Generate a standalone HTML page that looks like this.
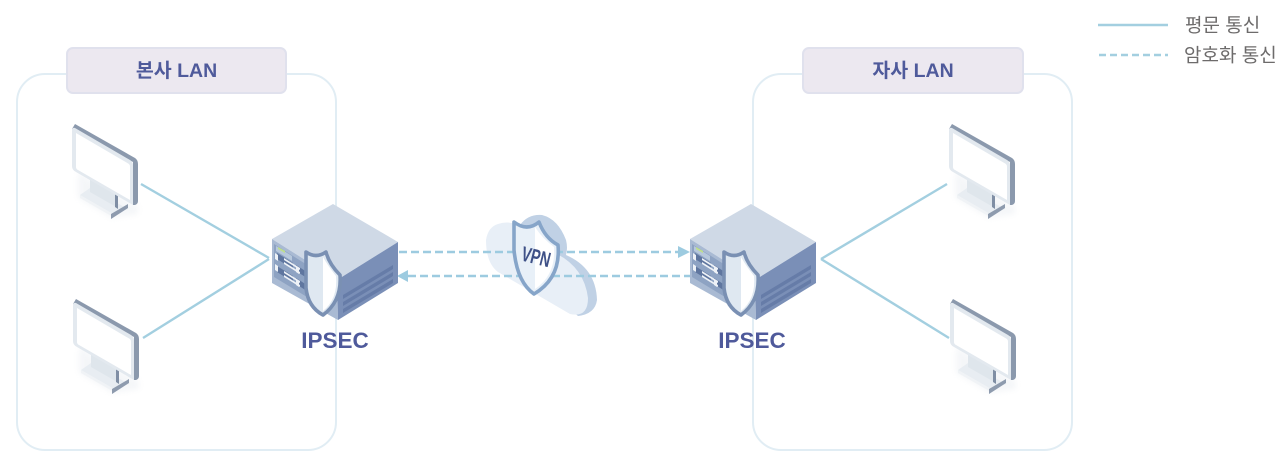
<!DOCTYPE html>
<html lang="ko"><head><meta charset="utf-8"><title>IPSEC VPN</title>
<style>html,body{margin:0;padding:0;background:#fff}svg{display:block}
text{font-family:"Liberation Sans","Noto Sans CJK KR",sans-serif}</style></head>
<body>
<svg width="1280" height="463" viewBox="0 0 1280 463" xmlns="http://www.w3.org/2000/svg">
<defs>
<filter id="sh" x="-30%" y="-30%" width="160%" height="160%"><feGaussianBlur stdDeviation="3"/></filter>
<g id="mon">
  <polygon points="6,48 66,82 66,90 40,94 6,74" fill="#e8ecf1" filter="url(#sh)" opacity=".45"/>
  <polygon points="8,71 18,64 56,85 41,90" fill="#e8edf2"/>
  <polygon points="8,71 41,90 41,93 8,74" fill="#f0f3f6"/>
  <polygon points="18,50 46,66 46,84 18,68" fill="#dfe6ec"/>
  <polygon points="43,66 46,68 46,85 43,83" fill="#7f8ea4"/>
  <polygon points="39,90 56,80 56,84 39,95" fill="#8e9bae"/>
  <path d="M3,0 L63,34 Q66,36 66,40 L66,77 Q66,80 63,81 L61,81 L61,38 L0,5 Z" fill="#8b99ad"/>
  <path d="M3,4 L58,36 Q61,38 61,41 L61,81 L4,48 Q0,46 0,42 L0,7 Q0,3 3,4 Z" fill="#e3e9ef"/>
  <path d="M4,9 L57,40 Q58,41 58,43 L58,76 L6,46 Q4,45 4,43 Z" fill="#fff"/>
</g>
<g id="srv">
  <polygon points="61,0 126,38 65,76 0,35" fill="#cfd9e6"/>
  <polygon points="0,35 65,76 66,116 0,79" fill="#a9bad3"/>
  <polygon points="65,76 126,38 126,79 66,116" fill="#7a8fb7"/>
  <polygon points="2,40 40,64 40,96 2,73" fill="#8ea3c3"/>
  <polygon points="4,42 20,52 20,57 4,47" fill="#b7c8dc"/>
  <polygon points="6,43 13,47 13,49 6,45" fill="#bfe08a"/>
  <g fill="#5f769f">
    <polygon points="5,49 21,59 21,65 5,55"/><polygon points="5,62 21,72 21,78 5,68"/>
    <polygon points="24,61 38,70 38,76 24,67"/><polygon points="24,74 38,83 38,89 24,80"/>
  </g>
  <g fill="#eef2f7">
    <polygon points="12,54 28,64 28,66 12,56"/><polygon points="12,58 28,68 28,70 12,60"/>
    <polygon points="12,67 28,77 28,79 12,69"/><polygon points="12,71 28,81 28,83 12,73"/>
    <polygon points="3,49 6,51 6,57 3,55"/><polygon points="3,60 6,62 6,68 3,66"/>
    <polygon points="24,62 27,64 27,70 24,68"/><polygon points="24,75 27,77 27,83 24,81"/>
    <polygon points="34,69 37,71 37,77 34,75"/><polygon points="34,79 37,81 37,87 34,85"/>
  </g>
  <g fill="#667ca8">
    <polygon points="71,91 121,61 121,65 71,95"/>
    <polygon points="71,98 121,68 121,72 71,102"/>
    <polygon points="71,105 121,75 121,79 71,109"/>
  </g>
  <path d="M34,48 Q44,55 54,48 Q57,60 68,71 Q70,97 51,111 Q36,103 34,84 Z" fill="#dfe8f1"/>
  <path d="M51,53 Q56,62 64,72 Q66,95 51,107 Z" fill="#fff"/>
  <path d="M34,48 Q44,55 54,48 Q57,60 68,71 Q70,97 51,111 Q36,103 34,84 Z" fill="none" stroke="#7a90b3" stroke-width="3.600" stroke-linejoin="round"/>
</g>
</defs>

<!-- panels -->
<rect x="17" y="74" width="319" height="376" rx="28" fill="#fff" stroke="#e1edf4" stroke-width="2"/>
<rect x="753" y="74" width="319" height="376" rx="28" fill="#fff" stroke="#e1edf4" stroke-width="2"/>
<rect x="67" y="48" width="219" height="45" rx="6" fill="#ece8f0" stroke="#e0e1ed" stroke-width="2"/>
<rect x="803" y="48" width="220" height="45" rx="6" fill="#ece8f0" stroke="#e0e1ed" stroke-width="2"/>
<text x="176.500" y="77" text-anchor="middle" font-size="19.500" font-weight="700" fill="#4f5a9b">본사 LAN</text>
<text x="913" y="77" text-anchor="middle" font-size="19.500" font-weight="700" fill="#4f5a9b">자사 LAN</text>

<!-- connectors -->
<g stroke="#a3cfe0" stroke-width="2.400" fill="none">
  <line x1="141" y1="184" x2="269" y2="258"/>
  <line x1="143" y1="338" x2="269" y2="259"/>
  <line x1="947" y1="184" x2="821" y2="259"/>
  <line x1="949" y1="338" x2="821" y2="259"/>
</g>

<!-- monitors -->
<use href="#mon" x="72" y="124"/>
<use href="#mon" x="73" y="299"/>
<use href="#mon" x="949" y="124"/>
<use href="#mon" x="950" y="299"/>

<!-- cloud -->
<path d="M520,225 Q528,214 542,215 Q558,219 566,240 Q568,248 566,255 Q596,268 597,300 Q595,314 578,316 L560,300 Z" fill="#c0d1e5"/>
<path d="M498,224 Q512,219 525,230 Q545,232 553,252 Q584,266 588,298 Q588,318 570,314 L498,272 Q486,263 486,240 Q488,227 498,224 Z" fill="#e8eff7"/>

<!-- dashed links -->
<g stroke="#9dcbe0" stroke-width="2.600" fill="none" stroke-dasharray="8 4">
  <line x1="399" y1="252" x2="680" y2="252"/>
  <line x1="408" y1="276" x2="690" y2="276"/>
</g>
<polygon points="690,252 678,246 678,258" fill="#9dcbe0"/>
<polygon points="397,276 408,270 408,282" fill="#9dcbe0"/>

<!-- VPN shield -->
<path d="M514,222 Q527,232 539,222 Q545,238 558,245 Q561,278 534,294 Q517,282 514,250 Z" fill="#e8f0f8"/>
<path d="M535,227 Q542,238 554,247 Q556,275 535,289 Z" fill="#fff"/>
<path d="M514,222 Q527,232 539,222 Q545,238 558,245 Q561,278 534,294 Q517,282 514,250 Z" fill="none" stroke="#86a5c9" stroke-width="3.600" stroke-linejoin="round"/>
<text x="536" y="264" text-anchor="middle" font-size="21" font-weight="700" fill="#3f5187" transform="rotate(14 536 257) translate(536 0) scale(.68 1) translate(-536 0)">VPN</text>

<!-- servers -->
<use href="#srv" x="272" y="204"/>
<use href="#srv" x="690" y="204"/>
<text x="335" y="348" text-anchor="middle" font-size="22.500" font-weight="700" fill="#4f5a9b">IPSEC</text>
<text x="752" y="348" text-anchor="middle" font-size="22.500" font-weight="700" fill="#4f5a9b">IPSEC</text>

<!-- legend -->
<line x1="1098" y1="25" x2="1168" y2="25" stroke="#a3cfe0" stroke-width="2.400"/>
<line x1="1099" y1="55" x2="1168" y2="55" stroke="#a3cfe0" stroke-width="2.400" stroke-dasharray="7 4"/>
<text x="1185" y="31.500" font-size="19" fill="#6d6b6b">평문 통신</text>
<text x="1184" y="61.500" font-size="19" fill="#6d6b6b">암호화 통신</text>
</svg>
</body></html>
